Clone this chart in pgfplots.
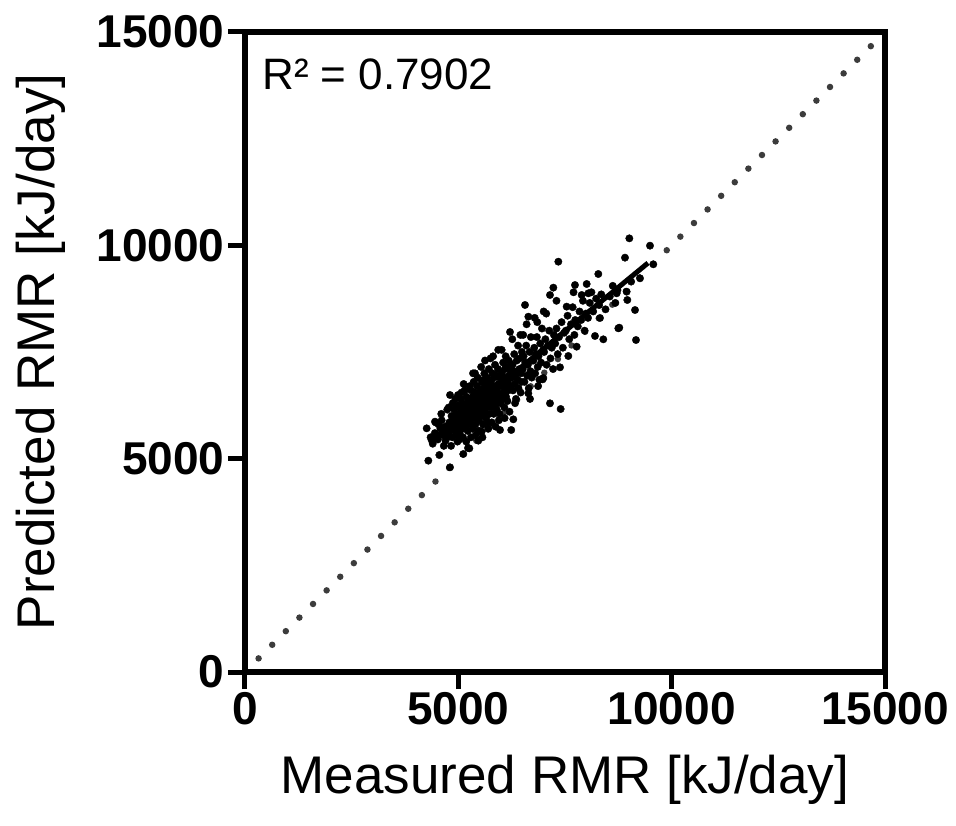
\documentclass[border=0pt]{standalone}
\usepackage{pgfplots}
\pgfplotsset{compat=1.18}
\usepackage{fontspec}
\setmainfont{Liberation Sans}
\definecolor{idgray}{RGB}{60,60,60}
\begin{document}
\begin{tikzpicture}
\path[use as bounding box] (-245pt,-153pt) rectangle (711pt,672pt);
\begin{axis}[
  at={(0,0)}, anchor=south west,
  scale only axis, width=640pt, height=640pt,
  xmin=0, xmax=15000, ymin=0, ymax=15000,
  xtick={0,5000,10000,15000}, ytick={0,5000,10000,15000},
  xtick pos=bottom, ytick pos=left,
  tick align=outside, major tick length=17pt,
  axis line style={line width=5.5pt, black},
  every tick/.style={line width=5pt, black},
  scaled ticks=false,
  /pgf/number format/1000 sep={},
  /pgf/number format/assume math mode=true,
  ticklabel style={font=\fontsize{46}{55}\selectfont\bfseries},
  xlabel={Measured RMR [kJ/day]},
  ylabel={Predicted RMR [kJ/day]},
  label style={font=\fontsize{53}{63}\selectfont},
  xlabel style={at={(axis description cs:0.5,-0.19)}, anchor=base},
  ylabel style={at={(axis description cs:-0.298,0.5)}, anchor=base, rotate=0},
  clip=false,
]
\addplot[only marks, mark=*, mark size=3.7pt, black, mark options={draw=none, fill=black}] coordinates {
(4297,4953) (4258,5711) (4477,5844) (4400,5350) (4350,5500) (4450,5600) (4375,5437)
(4555,5086) (4520,5450) (4580,5700) (4610,5900) (4640,5550) (4660,5300) (4690,5750) (4720,5600) (4600,6050) (4700,5420) (4540,5800) (4740,6150) (4453,5867)
(4805,4797) (4805,6492) (4770,5600) (4790,5850) (4820,5700) (4840,6000) (4860,5500) (4880,5900) (4900,6150) (4920,5650) (4940,5800) (4960,6050) (4980,5400) (4775,6200) (4830,5300) (4870,6300) (4910,5950) (4950,5550) (4990,6250) (4850,5780) (4930,6400) (4970,5720) (4992,6492) (4758,5508)
(5117,5109) (5010,5900) (5020,6200) (5030,5600) (5040,6050) (5050,5800) (5060,6400) (5070,5950) (5080,6150) (5090,5700) (5100,6300) (5110,5500) (5130,6050) (5140,5850) (5150,6600) (5160,6250) (5170,5750) (5180,6000) (5190,6450) (5200,5900) (5210,6150) (5220,5650) (5230,6350) (5240,6000) (5025,5450) (5075,6550) (5125,6750) (5185,5400) (5235,5800) (5155,6100) (5227,5250)
(5258,5242) (5469,5422) (5260,6100) (5270,6400) (5280,5850) (5290,6250) (5300,6600) (5310,6000) (5320,6200) (5330,5700) (5340,6450) (5350,6100) (5360,6800) (5370,5950) (5380,6300) (5390,6550) (5400,5800) (5410,6150) (5420,6400) (5430,6000) (5440,6700) (5450,6250) (5460,5650) (5470,6100) (5480,6500) (5490,5900) (5265,6700) (5295,5500) (5345,7000) (5405,5550) (5455,6900) (5485,6300) (5315,6350) (5375,6050) (5391,7000)
(5510,6300) (5520,6600) (5530,6000) (5540,6450) (5550,6800) (5560,6150) (5570,6350) (5580,5800) (5590,6650) (5600,6250) (5610,7000) (5620,6100) (5630,6500) (5640,6750) (5650,5950) (5660,6400) (5670,6200) (5680,6900) (5690,6550) (5700,5700) (5710,6300) (5720,6700) (5730,6050) (5740,6450) (5505,5650) (5535,7150) (5565,5500) (5595,6850) (5625,7300) (5655,6600) (5685,5850) (5715,7100) (5745,6250) (5575,6550) (5547,5633)
(5977,5672) (5760,6500) (5770,6800) (5780,6200) (5790,6650) (5800,7000) (5810,6350) (5820,6550) (5830,6050) (5840,6900) (5850,6450) (5860,7200) (5870,6250) (5880,6700) (5890,6950) (5900,6150) (5910,6600) (5920,6400) (5930,7100) (5940,6750) (5950,5900) (5960,6500) (5970,6900) (5990,6300) (5755,7350) (5785,5850) (5815,7400) (5875,5750) (5935,7550) (5965,6050)
(6240,5672) (6010,6700) (6020,7000) (6030,6400) (6040,6850) (6050,7250) (6060,6550) (6070,6750) (6080,6200) (6090,7100) (6100,6650) (6110,7400) (6120,6450) (6130,6900) (6140,7150) (6150,6350) (6160,6800) (6170,6600) (6180,7300) (6190,6950) (6200,6100) (6211,7969) (6220,6700) (6230,7050) (6015,7550) (6085,5950)
(6289,5922) (6260,6900) (6270,7200) (6280,6600) (6300,7050) (6310,7450) (6320,6750) (6340,6950) (6350,6400) (6370,7300) (6390,6850) (6400,7650) (6410,6650) (6430,7100) (6440,7350) (6460,6550) (6470,7000) (6480,6800) (6490,7500) (6265,7800) (6330,6300) (6455,7900)
(6563,8602) (6641,6531) (6510,7100) (6530,7400) (6550,6800) (6570,7250) (6590,7650) (6610,6950) (6630,7200) (6650,6650) (6670,7500) (6690,7050) (6700,7850) (6720,6900) (6740,7300) (6520,7900) (6600,8150) (6680,6400) (6641,8328)
(6977,6859) (6760,7300) (6780,7600) (6800,7000) (6820,7450) (6840,7850) (6860,7150) (6880,7400) (6900,6850) (6920,7700) (6940,7250) (6960,8050) (6990,7550) (6790,8300) (6870,6700) (6850,8200) (6992,6891)
(7148,6297) (7227,9008) (7010,7500) (7040,7800) (7070,7200) (7100,7650) (7130,8000) (7160,7350) (7190,7600) (7220,7100) (7240,7900) (7060,8400) (7148,8836) (7000,8450)
(7344,9617) (7398,6164) (7383,7141) (7270,7700) (7300,8050) (7330,7450) (7360,7850) (7420,8200) (7450,7600) (7480,7950) (7300,8700)
(7578,7406) (7520,8000) (7560,8350) (7600,7800) (7640,8150) (7680,8550) (7720,7900) (7740,8250) (7539,8563) (7700,8900) (7734,9070)
(7773,7625) (7800,8100) (7840,8450) (7880,8250) (7920,8700) (7960,8000) (7990,8400) (7891,8836)
(8203,7875) (8040,8300) (8080,8650) (8120,8900) (8160,8450) (8230,8750) (8008,9094) (8047,8875)
(8281,9328) (8398,7797) (8300,8600) (8350,8850) (8450,8500) (8320,8297)
(8550,8800) (8620,9050) (8680,8650) (8730,8950) (8711,8875) (8750,8055)
(8773,8070) (8906,9711) (8945,8914) (8961,8719)
(9008,10164) (9141,8484) (9164,7781) (9258,9227) (9050,9150)
(9492,9992) (9570,9555)
};
\addplot[black, line width=5pt, line cap=butt] coordinates {(4336,5390) (9445,9586)};
\addplot[idgray, line width=6.5pt, line cap=round, dash pattern=on 0pt off 19.24pt] coordinates {(319,319) (14674,14674)};
\node[anchor=base west, font=\fontsize{44}{53}\selectfont, inner sep=0pt] at (axis cs:400,13650) {R² = 0.7902};
\end{axis}
\end{tikzpicture}
\end{document}
